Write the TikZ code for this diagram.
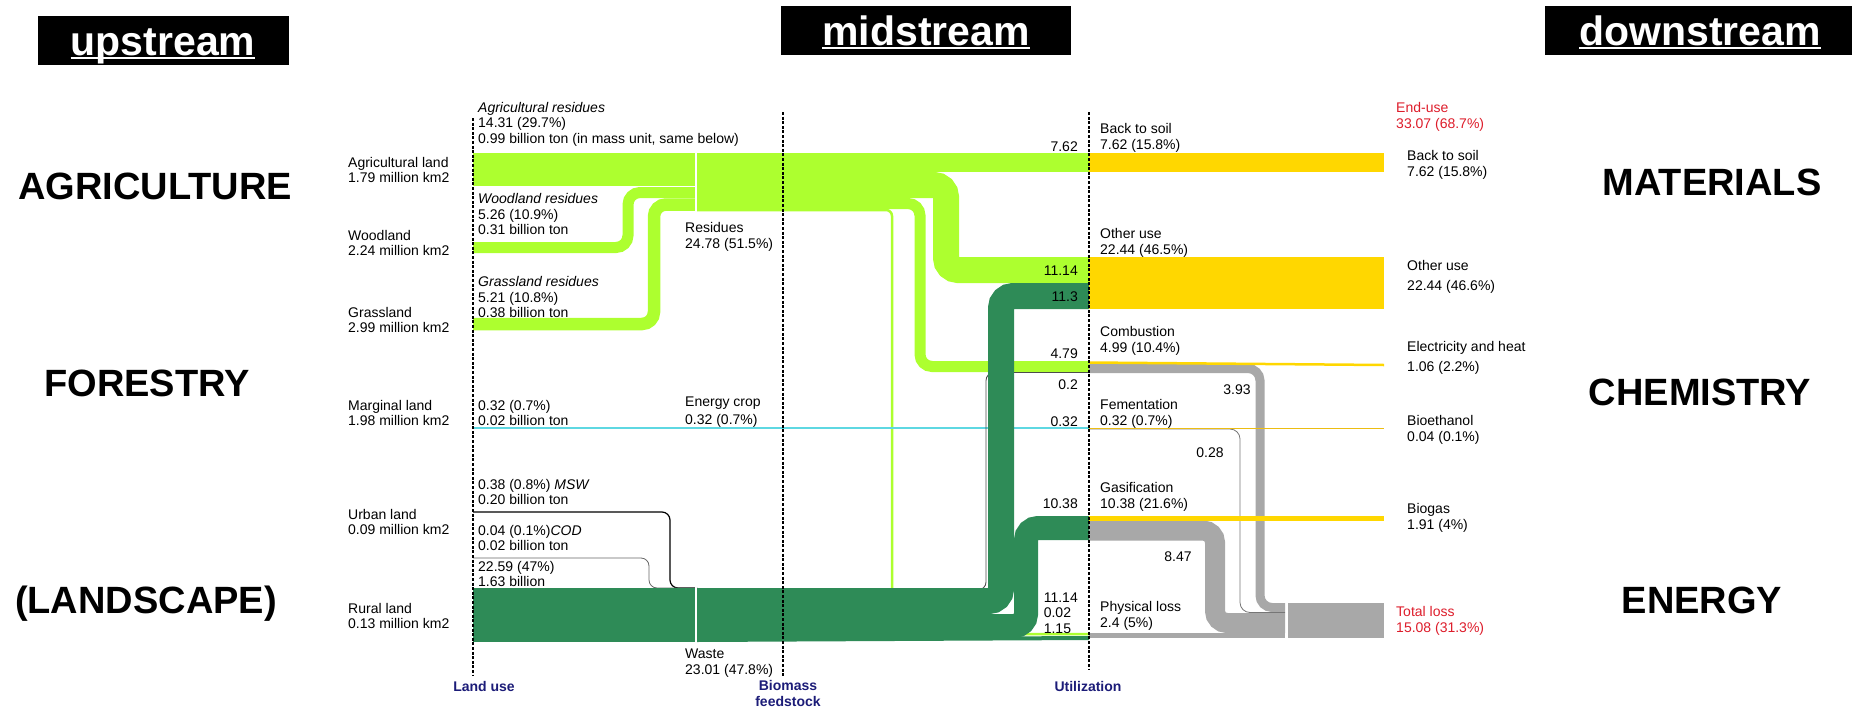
\documentclass[tikz,border=0pt]{standalone}
\usepackage{fontspec}
\setmainfont{Liberation Sans}
\definecolor{resgreen}{HTML}{ADFF2F}
\definecolor{wastegreen}{HTML}{2E8B57}
\definecolor{useyellow}{HTML}{FFD700}
\definecolor{lossgray}{HTML}{A8A8A8}
\definecolor{cropcyan}{HTML}{5ED8E2}
\definecolor{totalred}{HTML}{DD1C2A}
\definecolor{stagenavy}{HTML}{1C1C78}
\tikzset{
  txt/.style={font=\fontsize{14}{15.5}\selectfont, inner sep=0pt, align=left},
  lbl/.style={txt, anchor=west},
  val/.style={txt, anchor=east},
  sector/.style={font=\fontsize{38}{40}\selectfont\bfseries, inner sep=0pt},
  stream/.style={font=\fontsize{41}{44}\selectfont\bfseries, text=white, inner sep=0pt, anchor=base},
  stage/.style={dash pattern=on 3pt off 1.6pt, line width=1.3pt},
  stagelbl/.style={font=\fontsize{14}{16}\selectfont\bfseries, text=stagenavy, inner sep=0pt, align=center},
  band/.style={line width=#1pt, rounded corners=12pt},
}
\begin{document}
\begin{tikzpicture}[x=1pt,y=-1pt]
\useasboundingbox (0,0) rectangle (1852,712);

% stream headers
\fill (38,16) rectangle (289,65);
\fill (781,6) rectangle (1071,55);
\fill (1545,6) rectangle (1852,55);
\node[stream] (up) at (163,55) {upstream};
\node[stream] (mid) at (926,45) {midstream};
\node[stream] (down) at (1700,45) {downstream};
\foreach \s in {up,mid,down}
  \draw[white, line width=1.5pt] ([yshift=-3pt]\s.base west) -- ([yshift=-3pt]\s.base east);

\node[sector] (agri) at (155,186) {AGRICULTURE};
\node[sector] (forest) at (147,383) {FORESTRY};
\node[sector] (landsc) at (146,604) {(LANDSCAPE)};
\node[sector] (mater) at (1712,182) {MATERIALS};
\node[sector] (chem) at (1700,392) {CHEMISTRY};
\node[sector] (energy) at (1702,600) {ENERGY};

% residues
\fill[resgreen] (473,153) rectangle (697,186);
\fill[resgreen] (697,153) rectangle (783,211);
\fill[resgreen] (697,153) rectangle (1089,172);
\draw[resgreen, band=11] (473,247.5) -- (628,247.5) -- (628,192.5) -- (697,192.5);
\draw[resgreen, band=12.5] (473,324) -- (654,324) -- (654,204.5) -- (697,204.5);
\draw[resgreen, band=26] (697,185) -- (946,185) -- (946,270) -- (1089,270);
\draw[resgreen, band=11] (697,203.5) -- (920,203.5) -- (920,366.5) -- (1089,366.5);
\draw[resgreen, line width=2.5pt, rounded corners=6pt] (697,210) -- (892,210) -- (892,634) -- (1089,634);

\draw[cropcyan, line width=1.5pt] (473,428) -- (1089,428);

% urban and waste
\draw[line width=1.2pt, rounded corners=8pt] (473,512) -- (670,512) -- (670,588) -- (697,588);
\draw[black!60, line width=0.8pt, rounded corners=8pt] (473,558) -- (649,558) -- (649,588) -- (697,588);
\draw[black!70, line width=0.9pt, rounded corners=8pt] (940,590) -- (986,590) -- (986,372.5) -- (1089,372.5);
\fill[wastegreen] (473,588) rectangle (697,642);
\draw[wastegreen, band=26] (697,601) -- (1001,601) -- (1001,296) -- (1089,296);
\draw[wastegreen, band=24] (697,626) -- (1026,626) -- (1026,528) -- (1089,528);
\draw[wastegreen, line width=4pt] (697,640) -- (1089,638);

% utilization
\fill[useyellow] (1089,153) rectangle (1384,172);
\fill[useyellow] (1089,257) rectangle (1384,309);
\draw[lossgray, band=9] (1089,368.5) -- (1260,368.5) -- (1260,607.5) -- (1285,607.5);
\draw[lossgray!70!black, line width=0.8pt, rounded corners=10pt] (1089,429) -- (1240,429) -- (1240,612.5) -- (1285,612.5);
\draw[lossgray, band=20] (1089,530.5) -- (1215,530.5) -- (1215,623) -- (1285,623);
\draw[lossgray, line width=5pt] (1089,635.5) -- (1285,635.5);
\fill[lossgray] (1288,603) rectangle (1384,638);
\draw[useyellow, line width=2.5pt] (1089,362.5) -- (1384,365);
\draw[useyellow!70!brown, line width=0.8pt] (1089,428) -- (1384,428);
\draw[useyellow, line width=4.5pt] (1089,518.5) -- (1384,518.5);

\draw[white, line width=2pt] (696,152) -- (696,212) (696,587) -- (696,643);

\draw[stage] (473,118) -- (473,675);
\draw[stage] (783,112) -- (783,677);
\draw[stage] (1089,112) -- (1089,670);
\node[stagelbl] (landuse) at (484,686) {Land use};
\node[stagelbl] (feed) at (788,693) {Biomass\\feedstock};
\node[stagelbl] (util) at (1088,686) {Utilization};

% land use
\node[lbl] (agland) at (348,170) {Agricultural land\\1.79 million km2};
\node[lbl] (wood) at (348,243) {Woodland\\2.24 million km2};
\node[lbl] (grass) at (348,320) {Grassland\\2.99 million km2};
\node[lbl] (margin) at (348,413) {Marginal land\\1.98 million km2};
\node[lbl] (urban) at (348,522) {Urban land\\0.09 million km2};
\node[lbl] (rural) at (348,616) {Rural land\\0.13 million km2};

\node[lbl] (agres) at (478,124) {\textit{Agricultural residues}\\14.31 (29.7\%)\\0.99 billion ton (in mass unit, same below)};
\node[lbl] (woodres) at (478,214) {\textit{Woodland residues}\\5.26 (10.9\%)\\0.31 billion ton};
\node[lbl] (grassres) at (478,297) {\textit{Grassland residues}\\5.21 (10.8\%)\\0.38 billion ton};
\node[lbl] (crop) at (478,413) {0.32 (0.7\%)\\0.02 billion ton};
\node[lbl] (msw) at (478,492) {0.38 (0.8\%) \textit{MSW}\\0.20 billion ton};
\node[lbl] (cod) at (478,538) {0.04 (0.1\%)\textit{COD}\\0.02 billion ton};
\node[lbl] (ruralw) at (478,574) {22.59 (47\%)\\1.63 billion};

% feedstock
\node[lbl] (residues) at (685,237) {Residues\\24.78 (51.5\%)};
\node[lbl] (ecrop) at (685,412) {Energy crop\\[2pt]0.32 (0.7\%)};
\node[lbl] (waste) at (685,663) {Waste\\23.01 (47.8\%)};

\node[val] (v-soil) at (1078,147) {7.62};
\node[val] (v-otherres) at (1078,271) {11.14};
\node[val] (v-otherwaste) at (1078,297) {11.3};
\node[val] (v-combres) at (1078,354) {4.79};
\node[val] (v-combwaste) at (1078,385) {0.2};
\node[val] (v-ferm) at (1078,422) {0.32};
\node[val] (v-gas) at (1078,504) {10.38};
\node[val] (v-loss) at (1078,613) {11.14\\0.02\\1.15};

% utilization
\node[lbl] (soil) at (1100,138) {Back to soil\\7.62 (15.8\%)};
\node[lbl] (other) at (1100,243) {Other use\\22.44 (46.5\%)};
\node[lbl] (comb) at (1100,341) {Combustion\\4.99 (10.4\%)};
\node[lbl] (ferm) at (1100,414) {Fementation\\0.32 (0.7\%)};
\node[lbl] (gasif) at (1100,497) {Gasification\\10.38 (21.6\%)};
\node[lbl] (phys) at (1100,616) {Physical loss\\2.4 (5\%)};
\node[txt] (v-heatloss) at (1237,390) {3.93};
\node[txt] (v-fermloss) at (1210,453) {0.28};
\node[txt] (v-gasloss) at (1178,557) {8.47};

% end use
\node[lbl, text=totalred] (enduse) at (1396,117) {End-use\\33.07 (68.7\%)};
\node[lbl] (soilend) at (1407,165) {Back to soil\\7.62 (15.8\%)};
\node[lbl] (otherend) at (1407,277) {Other use\\[4pt]22.44 (46.6\%)};
\node[lbl] (heat) at (1407,358) {Electricity and heat\\[4pt]1.06 (2.2\%)};
\node[lbl] (ethanol) at (1407,430) {Bioethanol\\0.04 (0.1\%)};
\node[lbl] (biogas) at (1407,518) {Biogas\\1.91 (4\%)};
\node[lbl, text=totalred] (totloss) at (1396,621) {Total loss\\15.08 (31.3\%)};
\end{tikzpicture}
\end{document}
